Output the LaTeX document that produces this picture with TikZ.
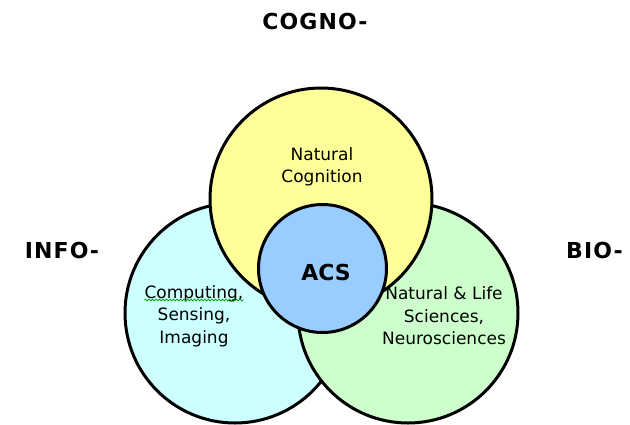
\documentclass[tikz,border=0pt]{standalone}
\usepackage{fontspec}
\setmainfont{DejaVu Sans}
\newfontfamily\headfont[LetterSpace=5]{DejaVu Sans}
\usetikzlibrary{decorations.pathmorphing}
\definecolor{infofill}{HTML}{CCFFFF}
\definecolor{biofill}{HTML}{CCFFCC}
\definecolor{cognofill}{HTML}{FFFF99}
\definecolor{acsfill}{HTML}{99CCFF}
\tikzset{
	venn/.style={circle, draw=black, line width=3pt, inner sep=0pt},
	headlabel/.style={font=\headfont\bfseries\fontsize{22}{26}\selectfont, inner sep=0pt},
	region/.style={font=\fontsize{17}{22.5}\selectfont, align=center, inner sep=0pt},
	squiggle/.style={green!60!black, line width=0.7pt,
		decorate, decoration={snake, amplitude=0.9pt, segment length=3.5pt}}
}

\begin{document}
\begin{tikzpicture}[x=1pt, y=-1pt]
	\useasboundingbox (0,0) rectangle (630,424);
	% the three fields, then the core
	\node[venn, fill=infofill, minimum size=220pt] (info) at (235,313) {};
	\node[venn, fill=biofill, minimum size=220pt] (bio) at (408,313) {};
	\node[venn, fill=cognofill, minimum size=222pt] (cogno) at (321,199) {};
	\node[venn, fill=acsfill, minimum size=128pt] (acs) at (322.5,268.5) {};
	\node[font=\bfseries\fontsize{22}{26}\selectfont] (acslabel) at (326,272) {ACS};

	\node[region] (infotext) at (194,316) {Computing,\\Sensing,\\Imaging};
	\node[region] (biotext) at (444,316) {Natural \& Life\\Sciences,\\Neurosciences};
	\node[region] (cognotext) at (322,167) {Natural\\Cognition};
	\draw[squiggle] ([yshift=-15pt]infotext.north west) -- ([yshift=-15pt]infotext.north east);

	% prefixes round the outside
	\node[headlabel] (cognohead) at (315,21) {COGNO-};
	\node[headlabel] (infohead) at (62,250) {INFO-};
	\node[headlabel, anchor=west] (biohead) at (566,250) {BIO-};
\end{tikzpicture}
\end{document}
